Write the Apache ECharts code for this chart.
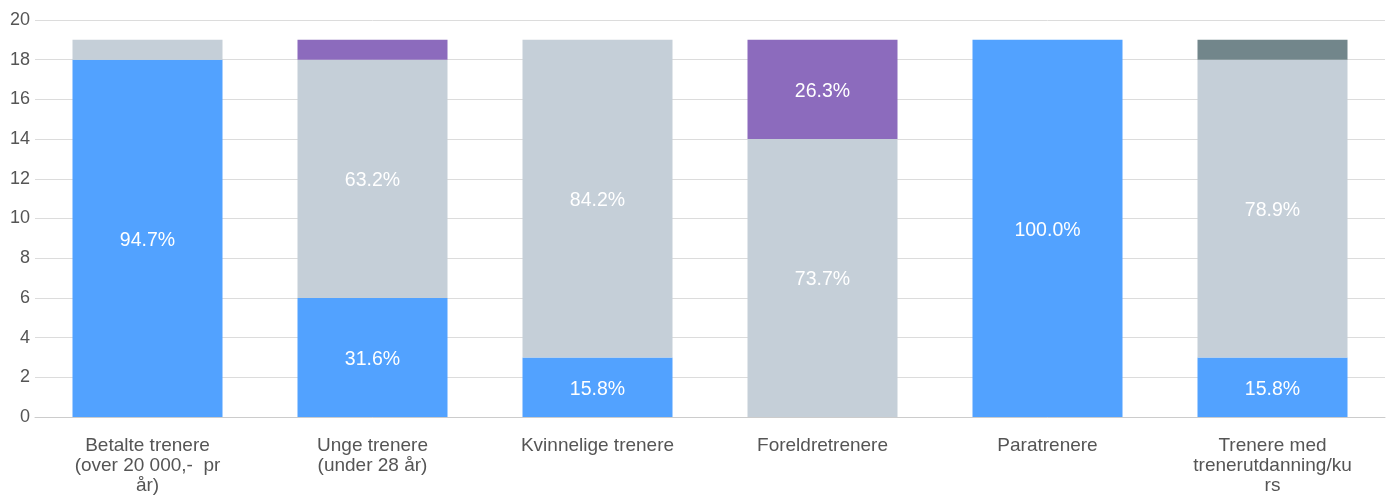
<!DOCTYPE html>
<html>
<head>
<meta charset="utf-8">
<script src="https://cdn.jsdelivr.net/npm/echarts@6/dist/echarts.min.js"></script>
<style>html,body{margin:0;padding:0;background:#fff}#c{width:1391px;height:504px}</style>
</head>
<body>
<div id="c"></div>
<script>
var categories = ["Betalte trenere\n(over 20 000,-  pr\når)", "Unge trenere\n(under 28 år)", "Kvinnelige trenere", "Foreldretrenere", "Paratrenere", "Trenere med\ntrenerutdanning/ku\nrs"];
var seriesBlue = [18, 6, 3, 0, 19, 3];
var seriesGray = [1, 12, 16, 14, 0, 15];
var seriesPurple = [0, 1, 0, 5, 0, 0];
var seriesSlate = [0, 0, 0, 0, 0, 1];
var yTicks = [0, 2, 4, 6, 8, 10, 12, 14, 16, 18, 20];

var all = [seriesBlue, seriesGray, seriesPurple, seriesSlate];
var totals = categories.map(function(_, i){ return all.reduce(function(s,a){return s+a[i];},0); });
var colors = ['#52a2ff', '#c5cfd8', '#8c6bbd', '#72868b'];
var FONT = 'Liberation Sans, Arial, sans-serif';

function mk(data, color){
  return {
    type: 'bar', stack: 'a', barWidth: 150,
    data: data.map(function(v){ return v === 0 ? null : v; }),
    itemStyle: {color: color},
    label: {
      show: true, position: 'inside', color: '#fff', fontSize: 19.5,
      fontFamily: FONT, offset: [0, 2],
      formatter: function(p){
        var pct = p.value / totals[p.dataIndex] * 100;
        return pct < 10 ? '' : pct.toFixed(1) + '%';
      }
    }
  };
}

var chart = echarts.init(document.getElementById('c'));
chart.setOption({
  animation: false,
  grid: {left: 35, right: 6, top: 20, bottom: 87},
  xAxis: {
    type: 'category', data: categories,
    axisLine: {lineStyle: {color: '#cccccc'}},
    axisTick: {show: false},
    axisLabel: {color: '#555', fontSize: 19, lineHeight: 20, margin: 19, interval: 0,
      fontFamily: FONT}
  },
  yAxis: {
    type: 'value', min: yTicks[0], max: yTicks[yTicks.length-1], interval: 2,
    axisLine: {show: false}, axisTick: {show: false},
    splitLine: {lineStyle: {color: '#dcdcdc'}},
    axisLabel: {color: '#555', fontSize: 18, margin: 5,
      fontFamily: FONT}
  },
  series: [mk(seriesBlue, colors[0]), mk(seriesGray, colors[1]), mk(seriesPurple, colors[2]), mk(seriesSlate, colors[3])]
});
</script>
</body>
</html>
